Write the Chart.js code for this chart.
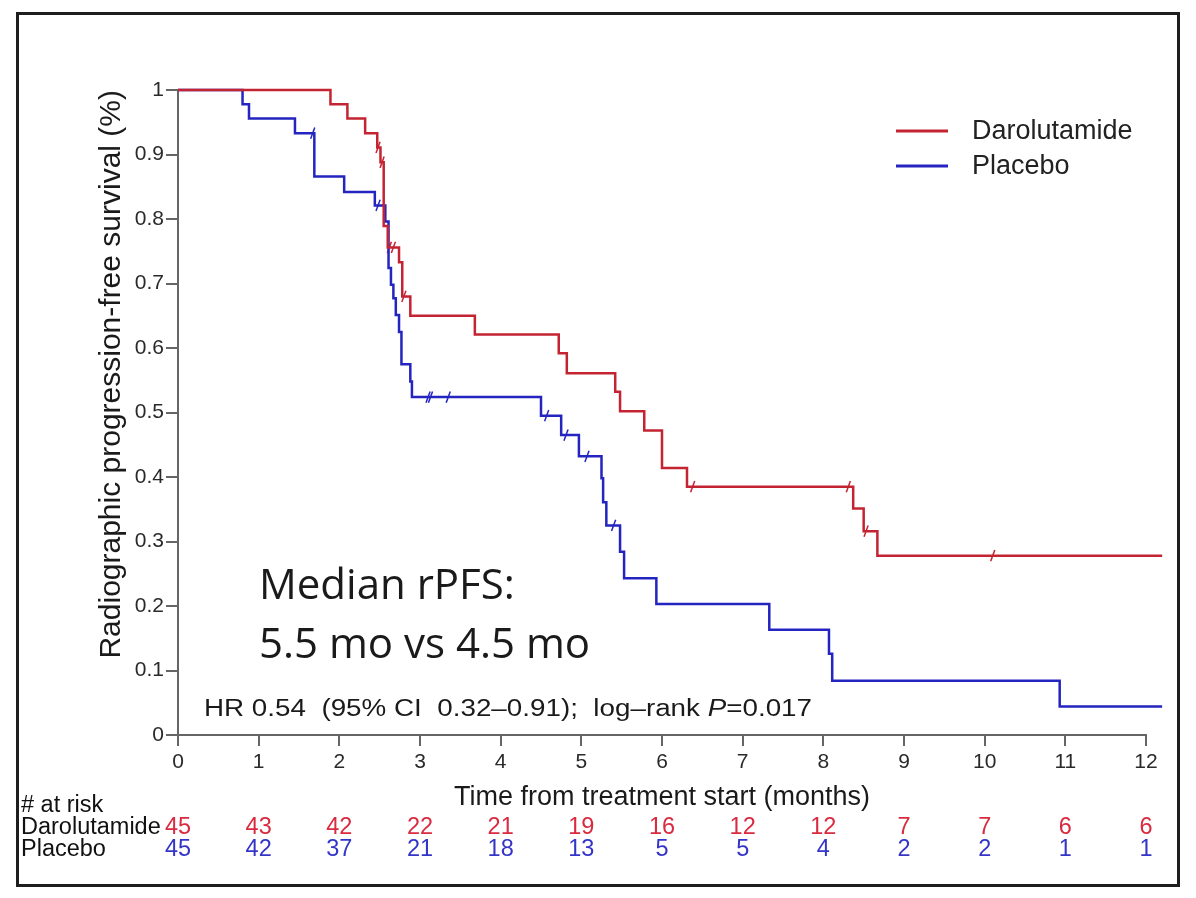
<!DOCTYPE html>
<html>
<head>
<meta charset="utf-8">
<title>rPFS Darolutamide vs Placebo</title>
<script src="https://cdn.jsdelivr.net/npm/chart.js@4.4.1/dist/chart.umd.min.js"></script>
<style>
html, body { margin: 0; padding: 0; background: #fff; }
#wrap { position: relative; width: 1196px; height: 898px; }
#frame { position: absolute; left: 16px; top: 12px; width: 1158px; height: 869px; border: 3px solid #1e1e1e; pointer-events: none; }
</style>
</head>
<body>
<div id="wrap">
<canvas id="graficoRpfs" width="1196" height="898"></canvas>
<div id="frame"></div>
</div>
<script>
// curvas de Kaplan-Meier (tempo em meses, sobrevida)
const tempoDarol = [0, 1.89, 2.10, 2.32, 2.47, 2.51, 2.55, 2.60, 2.74, 2.78, 2.88, 3.68, 4.72, 4.82, 5.42, 5.48, 5.78, 6.00, 6.31, 8.37, 8.50, 8.67, 12.2];
const sobrevDarol = [1, 0.978, 0.956, 0.933, 0.911, 0.888, 0.789, 0.756, 0.733, 0.680, 0.650, 0.621, 0.592, 0.561, 0.532, 0.502, 0.472, 0.414, 0.385, 0.351, 0.316, 0.278, 0.278];

const tempoPlac = [0, 0.80, 0.88, 1.45, 1.69, 2.06, 2.44, 2.57, 2.61, 2.64, 2.67, 2.70, 2.74, 2.77, 2.88, 2.90, 4.50, 4.75, 4.97, 5.25, 5.27, 5.31, 5.48, 5.53, 5.93, 7.33, 8.07, 8.11, 10.93, 12.2];
const sobrevPlac = [1, 0.978, 0.956, 0.933, 0.866, 0.842, 0.821, 0.796, 0.724, 0.698, 0.677, 0.651, 0.625, 0.575, 0.548, 0.524, 0.495, 0.465, 0.432, 0.398, 0.361, 0.325, 0.284, 0.243, 0.203, 0.163, 0.126, 0.084, 0.044, 0.044];

// censuras (tempo em meses)
const censDarol = [2.48, 2.53, 2.62, 2.67, 2.80, 6.38, 8.31, 8.53, 10.1];
const censPlac = [1.67, 2.48, 3.10, 3.13, 3.35, 4.57, 4.81, 5.07, 5.40];

// numero em risco
const mesesRisco = [0, 1, 2, 3, 4, 5, 6, 7, 8, 9, 10, 11, 12];
const riscoDarol = [45, 43, 42, 22, 21, 19, 16, 12, 12, 7, 7, 6, 6];
const riscoPlac = [45, 42, 37, 21, 18, 13, 5, 5, 4, 2, 2, 1, 1];

const corDarol = "#c42432";
const corPlac = "#2424c0";
const corTextoDarol = "#d92a40";
const corTextoPlac = "#3434c8";
const fonte = "'Liberation Sans', Arial, sans-serif";

function pontos(tempos, valores) {
    return tempos.map((t, i) => ({ x: t, y: valores[i] }));
}

function valorEm(t, tempos, valores) {
    let v = valores[0];
    for (let i = 0; i < tempos.length; i++) {
        if (tempos[i] <= t) v = valores[i];
    }
    return v;
}

function censuras(lista, tempos, valores) {
    return lista.map(t => ({ x: t, y: valorEm(t, tempos, valores) }));
}

const textos = {
    id: "textos",
    afterDraw(chart) {
        const ctx = chart.ctx;
        const escalaX = chart.scales.x;
        ctx.save();

        // legenda
        ctx.textBaseline = "middle";
        ctx.font = "27px " + fonte;
        [[corDarol, 0], [corPlac, 1]].forEach(([cor, i]) => {
            const y = 131 + i * 35;
            ctx.strokeStyle = cor;
            ctx.lineWidth = 3;
            ctx.beginPath();
            ctx.moveTo(896, y);
            ctx.lineTo(948, y);
            ctx.stroke();
            ctx.fillStyle = "#222";
            ctx.fillText(chart.data.datasets[i].label, 972, y + 1);
        });

        // mediana
        ctx.textBaseline = "alphabetic";
        ctx.fillStyle = "#1a1a1a";
        ctx.font = "42px 'Open Sans', sans-serif";
        ctx.fillText("Median rPFS:", 259, 599);
        ctx.fillText("5.5 mo vs 4.5 mo", 259, 658);

        // HR (texto largo como no original)
        const partes = [["HR 0.54  (95% CI  0.32\u20130.91);  log\u2013rank ", false], ["P", true], ["=0.017", false]];
        let total = 0;
        partes.forEach(([txt, italico]) => {
            ctx.font = (italico ? "italic " : "") + "23px " + fonte;
            total += ctx.measureText(txt).width;
        });
        ctx.save();
        ctx.translate(204, 716);
        ctx.scale(608 / total, 1);
        let px = 0;
        partes.forEach(([txt, italico]) => {
            ctx.font = (italico ? "italic " : "") + "23px " + fonte;
            ctx.fillText(txt, px, 0);
            px += ctx.measureText(txt).width;
        });
        ctx.restore();

        // numero em risco
        ctx.textBaseline = "middle";
        ctx.font = "23.5px " + fonte;
        ctx.fillStyle = "#111";
        ctx.textAlign = "left";
        ctx.fillText("# at risk", 21, 806);
        ctx.fillText("Darolutamide", 21, 828);
        ctx.fillText("Placebo", 21, 850);
        ctx.textAlign = "center";
        mesesRisco.forEach((m, i) => {
            const x = escalaX.getPixelForValue(m);
            ctx.fillStyle = corTextoDarol;
            ctx.fillText(String(riscoDarol[i]), x, 828);
            ctx.fillStyle = corTextoPlac;
            ctx.fillText(String(riscoPlac[i]), x, 850);
        });
        ctx.restore();
    }
};

const graficoRpfs = new Chart(document.getElementById("graficoRpfs"), {
    type: "line",
    data: {
        datasets: [
            {
                label: "Darolutamide",
                data: pontos(tempoDarol, sobrevDarol),
                borderColor: corDarol,
                borderWidth: 2.5,
                stepped: "before",
                pointRadius: 0,
                clip: false
            },
            {
                label: "Placebo",
                data: pontos(tempoPlac, sobrevPlac),
                borderColor: corPlac,
                borderWidth: 2.5,
                stepped: "before",
                pointRadius: 0,
                clip: false
            },
            {
                label: "Darolutamide censored",
                data: censuras(censDarol, tempoDarol, sobrevDarol),
                showLine: false,
                borderColor: corDarol,
                pointStyle: "line",
                rotation: 110,
                pointRadius: 6,
                pointBorderWidth: 1.5,
                clip: false
            },
            {
                label: "Placebo censored",
                data: censuras(censPlac, tempoPlac, sobrevPlac),
                showLine: false,
                borderColor: corPlac,
                pointStyle: "line",
                rotation: 110,
                pointRadius: 6,
                pointBorderWidth: 1.5,
                clip: false
            }
        ]
    },
    options: {
        responsive: false,
        animation: false,
        layout: { padding: { top: 90, right: 50, left: 0, bottom: 0 } },
        plugins: {
            legend: { display: false },
            tooltip: { enabled: false }
        },
        scales: {
            x: {
                type: "linear",
                min: 0,
                max: 12,
                afterFit: s => { s.height = 163; },
                border: { color: "#666", width: 2 },
                grid: { drawOnChartArea: false, drawTicks: true, tickLength: 11, color: "#666", lineWidth: 2 },
                ticks: { stepSize: 1, color: "#2a2a2a", padding: 4, font: { family: fonte, size: 21 } },
                title: {
                    display: true,
                    text: "Time from treatment start (months)",
                    color: "#1a1a1a",
                    font: { family: fonte, size: 27 },
                    padding: { top: 0, bottom: 84 }
                }
            },
            y: {
                min: 0,
                max: 1,
                afterFit: s => { s.width = 178; },
                border: { color: "#666", width: 2 },
                grid: { drawOnChartArea: false, drawTicks: true, tickLength: 12, color: "#666", lineWidth: 2 },
                ticks: {
                    stepSize: 0.1,
                    color: "#2a2a2a",
                    padding: 2,
                    font: { family: fonte, size: 21 },
                    callback: v => String(+v.toFixed(1))
                },
                title: {
                    display: true,
                    align: "end",
                    text: "Radiographic progression-free survival (%)",
                    color: "#1a1a1a",
                    font: { family: fonte, size: 30 },
                    padding: { top: 94, bottom: 0 }
                }
            }
        }
    },
    plugins: [textos]
});
</script>
</body>
</html>
